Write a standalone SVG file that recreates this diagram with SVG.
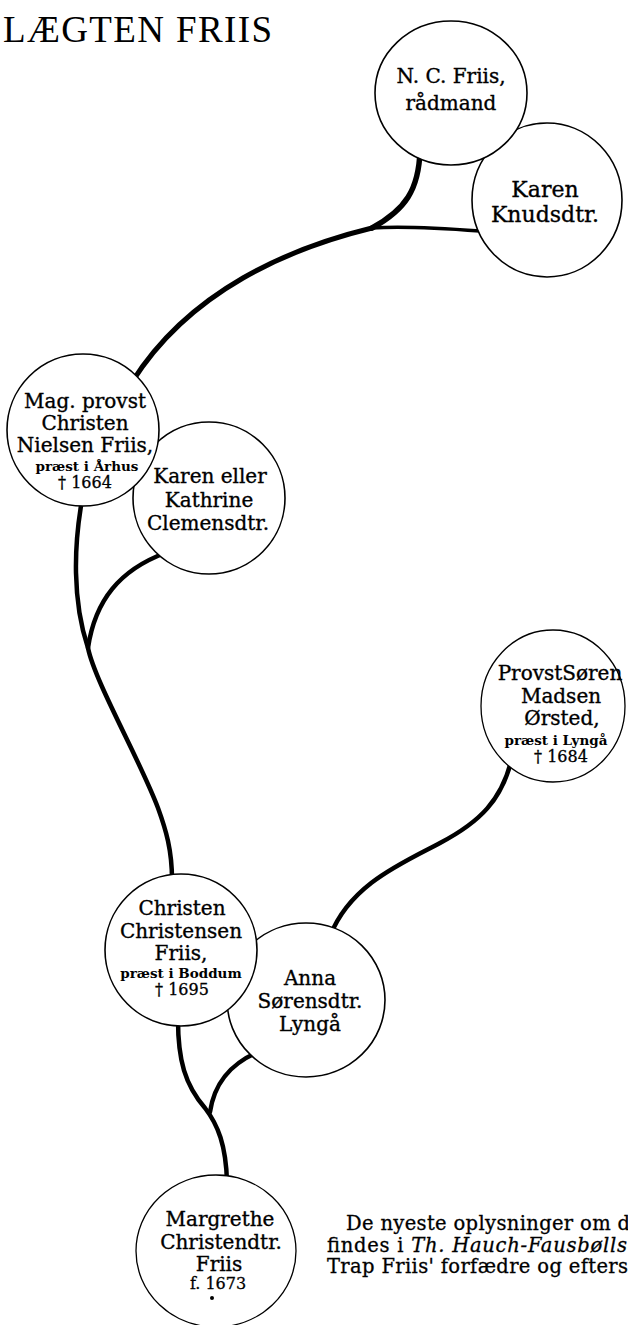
<svg xmlns="http://www.w3.org/2000/svg" width="628" height="1325" viewBox="0 0 628 1325">
<style>
.bg{fill:#fff}
.node{fill:#fff;stroke:#000;stroke-width:1.6}
.thin{stroke-width:1.3}
.nm{font-family:"DejaVu Serif",serif;font-size:20px;fill:#000;stroke:#000;stroke-width:0.35;text-anchor:middle}
.big{font-size:22px}
.sm{font-family:"DejaVu Serif",serif;font-size:13.5px;font-weight:bold;fill:#000;text-anchor:middle}
.dt{font-family:"DejaVu Serif",serif;font-size:16px;fill:#000;stroke:#000;stroke-width:0.3;text-anchor:middle}
.title{font-family:"Liberation Serif",serif;font-size:37px;fill:#000}
.para{font-family:"DejaVu Serif",serif;font-size:19.5px;fill:#000;stroke:#000;stroke-width:0.3}
.con{fill:none;stroke:#000;stroke-linecap:round}
</style>
<rect class="bg" x="0" y="0" width="628" height="1325"/>
<text class="title" x="3" y="42" textLength="269" lengthAdjust="spacing">LÆGTEN FRIIS</text>

<g id="connectors">
  <path class="con" stroke-width="5.5" d="M420 150 C419 190,405 210,372 228"/>
  <path class="con" stroke-width="3.5" d="M480 231 C440 228,400 226,372 228"/>
  <path class="con" stroke-width="5" d="M372 228 C290 248,190 290,132 382"/>
  <path class="con" stroke-width="4.5" d="M82 500 C74 545,72 600,88 648 C95 682,140 760,158 808 C166 830,172 850,172 880"/>
  <path class="con" stroke-width="4.5" d="M165 553 C120 570,95 600,88 648"/>
  <path class="con" stroke-width="4.5" d="M512 758 C502 800,480 822,440 843 C400 864,350 885,330 936"/>
  <path class="con" stroke-width="4.5" d="M178 1020 C178 1060,185 1085,205 1108 C218 1125,226 1145,227 1182"/>
  <path class="con" stroke-width="4.5" d="M258 1052 C228 1065,214 1085,210 1112"/>
</g>

<g id="node-karen-knudsdtr">
  <ellipse class="node" cx="547" cy="200" rx="75" ry="77"/>
  <text class="nm big" x="545" y="197">Karen</text>
  <text class="nm big" x="545" y="222">Knudsdtr.</text>
</g>
<g id="node-nc-friis">
  <ellipse class="node" cx="451" cy="93" rx="76" ry="72"/>
  <text class="nm" x="451" y="83">N. C. Friis,</text>
  <text class="nm" x="451" y="110">rådmand</text>
</g>
<g id="node-karen-clemensdtr">
  <circle class="node" cx="209" cy="498" r="76"/>
  <text class="nm" x="210" y="483">Karen eller</text>
  <text class="nm" x="209" y="507">Kathrine</text>
  <text class="nm" x="208" y="530">Clemensdtr.</text>
</g>
<g id="node-christen-nielsen-friis">
  <circle class="node" cx="83" cy="430" r="76"/>
  <text class="nm" x="85" y="408">Mag. provst</text>
  <text class="nm" x="85" y="430">Christen</text>
  <text class="nm" x="85" y="452">Nielsen Friis,</text>
  <text class="sm" x="87" y="471">præst i Århus</text>
  <text class="dt" x="85" y="488">† 1664</text>
</g>
<g id="node-anna-sorensdtr">
  <ellipse class="node" cx="306" cy="1000" rx="79" ry="77"/>
  <text class="nm" x="310" y="985">Anna</text>
  <text class="nm" x="310" y="1008">Sørensdtr.</text>
  <text class="nm" x="310" y="1031">Lyngå</text>
</g>
<g id="node-christen-christensen-friis">
  <circle class="node" cx="181" cy="950" r="76"/>
  <text class="nm" x="182" y="915">Christen</text>
  <text class="nm" x="181" y="938">Christensen</text>
  <text class="nm" x="181" y="960">Friis,</text>
  <text class="sm" x="181" y="978">præst i Boddum</text>
  <text class="dt" x="182" y="995">† 1695</text>
</g>
<g id="node-soren-madsen-orsted">
  <ellipse class="node thin" cx="553" cy="706" rx="72" ry="76"/>
  <text class="nm" x="560" y="680">ProvstSøren</text>
  <text class="nm" x="561" y="703">Madsen</text>
  <text class="nm" x="562" y="725">Ørsted,</text>
  <text class="sm" x="556" y="745">præst i Lyngå</text>
  <text class="dt" x="561" y="762">† 1684</text>
</g>
<g id="node-margrethe">
  <ellipse class="node thin" cx="216" cy="1251" rx="80" ry="76"/>
  <text class="nm" x="220" y="1226">Margrethe</text>
  <text class="nm" x="221" y="1249">Christendtr.</text>
  <text class="nm" x="219" y="1271">Friis</text>
  <text class="dt" x="218" y="1289">f. 1673</text>
  <circle cx="212" cy="1298" r="2" fill="#000"/>
</g>

<g id="note">
  <text class="para" x="346" y="1230" textLength="284" lengthAdjust="spacing">De nyeste oplysninger om d</text>
  <text class="para" x="327" y="1252" textLength="300" lengthAdjust="spacing">findes i <tspan font-style="italic">Th. Hauch-Fausbølls</tspan></text>
  <text class="para" x="327" y="1273" textLength="301" lengthAdjust="spacing">Trap Friis' forfædre og efters</text>
</g>
</svg>
